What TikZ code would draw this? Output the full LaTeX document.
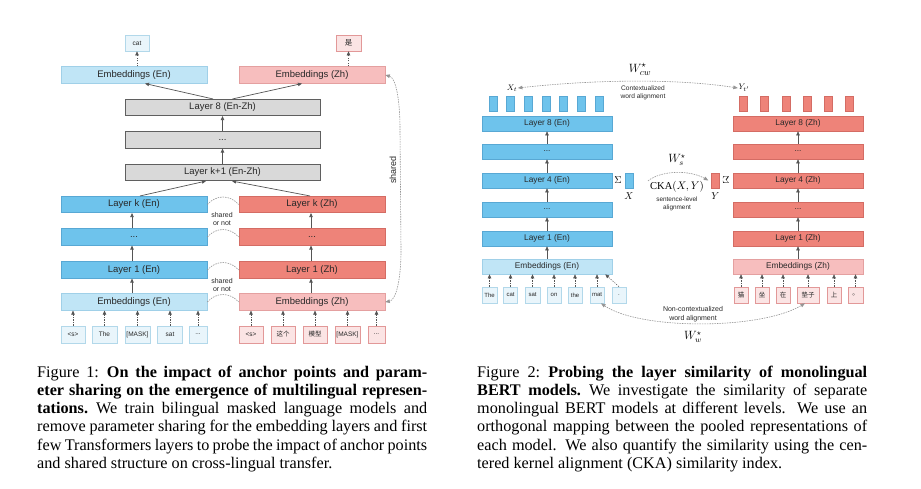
\documentclass[tikz,border=0pt]{standalone}
\usepackage{fontspec}
\usepackage{graphicx}
\setmainfont{Liberation Serif}
\newfontfamily\arialf{Liberation Sans}
\newfontfamily\cjk{Noto Sans CJK SC}
\usetikzlibrary{arrows.meta}
\definecolor{bluF}{RGB}{110,195,236}
\definecolor{bluD}{RGB}{88,168,212}
\definecolor{lbF}{RGB}{192,229,246}
\definecolor{lbD}{RGB}{160,208,232}
\definecolor{redF}{RGB}{238,131,121}
\definecolor{redD}{RGB}{212,108,100}
\definecolor{lrF}{RGB}{247,190,190}
\definecolor{lrD}{RGB}{228,160,160}
\definecolor{gryF}{RGB}{217,217,217}
\definecolor{gryD}{RGB}{95,95,95}
\definecolor{tEF}{RGB}{233,245,251}
\definecolor{tED}{RGB}{178,216,234}
\definecolor{tZF}{RGB}{251,228,228}
\definecolor{tZD}{RGB}{226,152,152}
\definecolor{arrc}{RGB}{85,85,85}
\definecolor{gc}{RGB}{150,150,150}
\definecolor{txt}{RGB}{40,40,40}
\begin{document}
\begin{tikzpicture}[x=1pt,y=-1pt,
  box/.style={draw, line width=0.6pt, inner sep=0pt, text=txt},
  lbl/.style={box, minimum width=146pt, minimum height=16.5pt, font=\arialf\fontsize{9.5}{10}\selectfont},
  rbl/.style={box, minimum width=130pt, minimum height=15pt, font=\arialf\fontsize{8.3}{9}\selectfont},
  blu/.style={fill=bluF, draw=bluD},
  lbl-blue/.style={fill=lbF, draw=lbD},
  rdd/.style={fill=redF, draw=redD},
  lrd/.style={fill=lrF, draw=lrD},
  gry/.style={fill=gryF, draw=gryD},
  tokE/.style={box, fill=tEF, draw=tED, minimum height=17pt, font=\arialf\fontsize{6.5}{7}\selectfont},
  tokZ/.style={box, fill=tZF, draw=tZD, minimum height=17pt, font=\arialf\fontsize{6.5}{7}\selectfont},
  rtokE/.style={tokE, minimum height=16pt, font=\arialf\fontsize{6}{7}\selectfont},
  rtokZ/.style={tokZ, minimum height=16pt, font=\arialf\fontsize{6}{7}\selectfont},
  bar/.style={box, minimum width=8pt, minimum height=15pt, line width=0.4pt},
  arr/.style={-{Triangle[length=4pt,width=3.4pt]}, draw=arrc, line width=0.7pt},
  darr/.style={arr, dash pattern=on 1.3pt off 1.2pt, line width=0.6pt},
  garr/.style={draw=gc, dash pattern=on 1.5pt off 1pt, line width=0.6pt},
  gtips/.style={{Triangle[length=4.5pt,width=3.6pt]}-{Triangle[length=4.5pt,width=3.6pt]}},
  small/.style={font=\arialf\fontsize{7}{7.6}\selectfont, text=txt, align=center, inner sep=0pt},
  captxt/.style={anchor=base west, text width=390pt, align=justify, inner sep=0pt, font=\fontsize{16.2}{18.3}\selectfont}
]
\useasboundingbox (0,0) rectangle (921,488);
\fill[white] (0,0) rectangle (921,488);

% ================= LEFT FIGURE =================
\node[tokE, minimum width=24pt, minimum height=16pt] (cat) at (137,43) {cat};
\node[tokZ, minimum width=25pt, minimum height=16pt] (shi) at (348.5,43) {\cjk\fontsize{7.5}{8}\selectfont 是};
\node[lbl, lbl-blue] (eEnT) at (134,75) {Embeddings (En)};
\node[lbl, lrd] (eZhT) at (312,75) {Embeddings (Zh)};
\node[lbl, gry, minimum width=195pt] (l8) at (222.5,107.5) {Layer 8 (En-Zh)};
\node[lbl, gry, minimum width=195pt] (ldg) at (222.5,140) {...};
\node[lbl, gry, minimum width=195pt] (lk1) at (222.5,172.5) {Layer k+1 (En-Zh)};
\node[lbl, blu] (lkE) at (134,204.5) {Layer k (En)};
\node[lbl, rdd] (lkZ) at (312,204.5) {Layer k (Zh)};
\node[lbl, blu] (ldE) at (134,237) {...};
\node[lbl, rdd] (ldZ) at (312,237) {...};
\node[lbl, blu] (l1E) at (134,270) {Layer 1 (En)};
\node[lbl, rdd] (l1Z) at (312,270) {Layer 1 (Zh)};
\node[lbl, lbl-blue] (eE) at (134,302) {Embeddings (En)};
\node[lbl, lrd] (eZ) at (312,302) {Embeddings (Zh)};

\foreach \x/\w/\t [count=\i] in {73/24/{<s>}, 104.5/25/{The}, 137.5/25/{[MASK]}, 170/25/{sat}, 198/18/{...}}{
  \node[tokE, minimum width=\w pt] (tl\i) at (\x,334.5) {\t};
  \draw[darr] (tl\i.north) -- (tl\i.north |- eE.south);
}
\foreach \x/\w/\t [count=\i] in {251/24/{<s>}, 283/24/{\cjk 这个}, 315/24/{\cjk 模型}, 347.5/25/{[MASK]}, 376.5/17/{...}}{
  \node[tokZ, minimum width=\w pt] (tz\i) at (\x,334.5) {\t};
  \draw[darr] (tz\i.north) -- (tz\i.north |- eZ.south);
}

\draw[darr] (cat.south |- eEnT.north) -- (cat.south);
\draw[darr] (shi.south |- eZhT.north) -- (shi.south);
\draw[arr] ([xshift=-9.5pt]l8.north) -- ([xshift=11pt]eEnT.south);
\draw[arr] ([xshift=10pt]l8.north) -- ([xshift=-10pt]eZhT.south);
\draw[arr] (ldg) -- (l8);
\draw[arr] (lk1) -- (ldg);
\draw[arr] ([xshift=6pt]lkE.north) -- ([xshift=-16.5pt]lk1.south);
\draw[arr] ([xshift=-2pt]lkZ.north) -- ([xshift=9.5pt]lk1.south);
\draw[arr] ([xshift=-2pt]eE.north) -- ([xshift=-2pt]l1E.south);
\draw[arr] ([xshift=-2pt]l1E.north) -- ([xshift=-2pt]ldE.south);
\draw[arr] ([xshift=-2pt]ldE.north) -- ([xshift=-2pt]lkE.south);
\draw[arr] ([xshift=-1pt]eZ.north) -- ([xshift=-1pt]l1Z.south);
\draw[arr] ([xshift=-1pt]l1Z.north) -- ([xshift=-1pt]ldZ.south);
\draw[arr] ([xshift=-1pt]ldZ.north) -- ([xshift=-1pt]lkZ.south);

\foreach \a/\b in {lkE/lkZ, ldE/ldZ, l1E/l1Z, eE/eZ}
  \draw[garr] (\a.east) .. controls +(9,-10) and +(-9,-10) .. (\b.west);
\node[small] (sn1) at (222,219) {shared\\or not};
\node[small] (sn2) at (222,285) {shared\\or not};

\draw[garr, gtips, fill=none] (eZhT.east) .. controls (396,78) and (400,100) .. (400,130)
  -- (401,250) .. controls (401,280) and (396,300) .. (eZ.east);
\node[font=\arialf\fontsize{9}{9}\selectfont, text=txt, rotate=90, inner sep=0pt] (shr) at (393,170) {shared};

% ================= RIGHT FIGURE =================
\node[rbl, blu] (r8E) at (547,123.5) {Layer 8 (En)};
\node[rbl, blu] (rdE) at (547,151.5) {...};
\node[rbl, blu] (r4E) at (547,180.5) {Layer 4 (En)};
\node[rbl, blu] (rd2E) at (547,209.5) {...};
\node[rbl, blu] (r1E) at (547,238.5) {Layer 1 (En)};
\node[rbl, lbl-blue] (reE) at (547,266.5) {Embeddings (En)};
\node[rbl, rdd] (r8Z) at (798,123.5) {Layer 8 (Zh)};
\node[rbl, rdd] (rdZ) at (798,151.5) {...};
\node[rbl, rdd] (r4Z) at (798,180.5) {Layer 4 (Zh)};
\node[rbl, rdd] (rd2Z) at (798,209.5) {...};
\node[rbl, rdd] (r1Z) at (798,238.5) {Layer 1 (Zh)};
\node[rbl, lrd] (reZ) at (798,266.5) {Embeddings (Zh)};

\foreach \a/\b in {reE/r1E, r1E/rd2E, rd2E/r4E, r4E/rdE, rdE/r8E, reZ/r1Z, r1Z/rd2Z, rd2Z/r4Z, r4Z/rdZ, rdZ/r8Z}
  \draw[arr, line width=0.6pt] (\a) -- (\b);

\foreach \i in {0,...,6}
  \node[bar, blu] (bE\i) at (493+17.67*\i,103.5) {};
\foreach \i in {0,...,5}
  \node[bar, rdd] (bZ\i) at (743.5+21.1*\i,103.5) {};

\foreach \x/\w/\t [count=\i] in {489.5/15/{The}, 510.5/14/{cat}, 532.5/15/{sat}, 554/14/{on}, 575/14/{the}, 597/14/{mat}}{
  \node[rtokE, minimum width=\w pt] (rt\i) at (\x,295) {\t};
  \draw[darr, line width=0.5pt] (rt\i.north) -- (rt\i.north |- reE.south);
}
\node[rtokE, minimum width=14pt] (rt7) at (619,295) {.};
\draw[darr, line width=0.5pt] (rt7.north) -- ([xshift=-7pt]reE.south east);
\foreach \x/\w/\t [count=\i] in {741/14/{猫}, 762/14/{坐}, 783/14/{在}, 808/22/{垫子}, 834/14/{上}, 855.5/15/{。}}{
  \node[rtokZ, minimum width=\w pt, font=\cjk\fontsize{6.5}{7}\selectfont] (rz\i) at (\x,295) {\t};
  \draw[darr, line width=0.5pt] (rz\i.north) -- (rz\i.north |- reZ.south);
}

% contextualized alignment
\node[inner sep=0.5pt, font=\fontsize{8}{8}\selectfont] (xt) at (512,88) {$X_t$};
\node[inner sep=0.5pt, font=\fontsize{8}{8}\selectfont] (yt) at (744,88) {$Y_{t'}$};
\draw[garr, gtips] (xt.east) .. controls (600,79) and (680,79) .. (yt.west);
\node[inner sep=0pt, font=\fontsize{12.5}{12.5}\selectfont] (wcw) at (640,69.5) {$W^\star_{cw}$};
\node[small, font=\arialf\fontsize{6.6}{8.5}\selectfont] (cwa) at (643,93) {Contextualized\\word alignment};

% sentence-level alignment
\node[inner sep=0pt, font=\fontsize{10}{10}\selectfont] (sigE) at (618,180) {$\Sigma$};
\node[bar, blu] (xb) at (629,180.5) {};
\node[inner sep=0pt, font=\fontsize{10}{10}\selectfont] (xl) at (629,196) {$X$};
\node[bar, rdd] (yb) at (715.5,180.5) {};
\node[inner sep=0pt, font=\fontsize{10}{10}\selectfont] (yl) at (715.5,196) {$Y$};
\node[inner sep=0pt, font=\fontsize{10}{10}\selectfont] (sigZ) at (726,180.5) {\scalebox{-1}[1]{$\Sigma$}};
\node[inner sep=0pt, font=\fontsize{12}{12}\selectfont] (ws) at (677,160) {$W^\star_{s}$};
\node[inner sep=0pt, font=\fontsize{10.5}{10.5}\selectfont] (cka) at (677,186.5) {$\mathrm{CKA}(X,Y)$};
\draw[garr, -{Triangle[length=4.5pt,width=3.6pt]}] ([xshift=-2pt]cka.north west) .. controls (662,170) and (690,170) .. ([xshift=-3pt]yb.west);
\node[small, font=\arialf\fontsize{6.4}{8}\selectfont] (sla) at (677,203.5) {sentence-level\\alignment};

% non-contextualized alignment
\draw[garr, gtips] ([xshift=4pt]rt6.south) .. controls (640,330) and (760,330) .. ([xshift=-3pt]rz4.south);
\node[small, font=\arialf\fontsize{7}{9}\selectfont] (nca) at (693,314.5) {Non-contextualized\\word alignment};
\node[inner sep=0pt, font=\fontsize{12}{12}\selectfont] (ww) at (693,337) {$W^\star_{w}$};

% ================= CAPTIONS =================
\node[captxt] (cap1) at (37,377) {\hyphenpenalty=10000 Figure 1:\enspace\textbf{On the impact of anchor points and param-}\linebreak
\textbf{eter sharing on the emergence of multilingual represen-}\linebreak
\textbf{tations.}\enspace We train bilingual masked language models and\linebreak
remove parameter sharing for the embedding layers and first\linebreak
few Transformers layers to probe the impact of anchor points\linebreak
and shared structure on cross-lingual transfer.};
\node[captxt] (cap2) at (477,377) {\hyphenpenalty=10000 Figure 2:\enspace\textbf{Probing the layer similarity of monolingual}\linebreak
\textbf{BERT models.}\enspace We investigate the similarity of separate\linebreak
monolingual BERT models at different levels. We use an\linebreak
orthogonal mapping between the pooled representations of\linebreak
each model. We also quantify the similarity using the cen-\linebreak
tered kernel alignment (CKA) similarity index.};
\end{tikzpicture}
\end{document}
